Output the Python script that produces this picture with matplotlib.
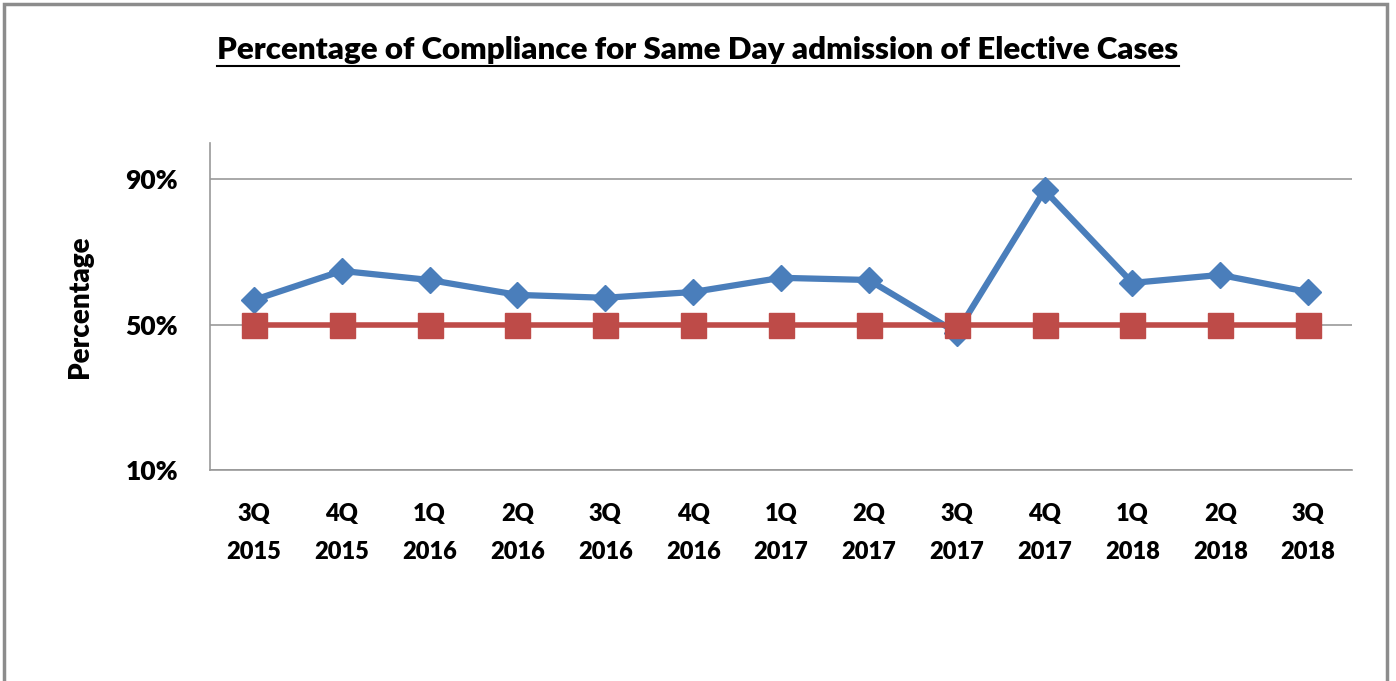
import matplotlib.pyplot as plt
from matplotlib.patches import Rectangle
from matplotlib.lines import Line2D

quarters = ['3Q\n2015', '4Q\n2015', '1Q\n2016', '2Q\n2016', '3Q\n2016', '4Q\n2016',
            '1Q\n2017', '2Q\n2017', '3Q\n2017', '4Q\n2017', '1Q\n2018', '2Q\n2018', '3Q\n2018']
compliance = [56.8, 64.8, 62.3, 58.2, 57.4, 59.0, 62.9, 62.3, 47.8, 87.0, 61.5, 63.7, 59.0]
target = [50] * 13
yticks = [10, 50, 90]

plt.rcParams['font.family'] = ['Lato', 'DejaVu Sans']
wt = 'heavy'

fig = plt.figure(figsize=(13.96, 6.81), dpi=100)
ax = fig.add_axes([0.1504, 0.3098, 0.8181, 0.4802])

x = range(len(quarters))
ax.plot(x, compliance, color='#4A7EBB', lw=4.5, marker='D', ms=13, zorder=3)
ax.plot(x, target, color='#BE4B48', lw=4, marker='s', ms=18, zorder=4)

ax.set_xlim(-0.5, len(quarters) - 0.5)
ax.set_ylim(10, 100)
ax.set_yticks(yticks)
ax.set_yticklabels([f'{v}%' for v in yticks], fontsize=19, fontweight=wt)
ax.set_xticks(list(x))
ax.set_xticklabels(quarters, fontsize=17, fontweight=wt, linespacing=1.85)
ax.tick_params(axis='y', length=0, pad=23)
ax.tick_params(axis='x', length=0, pad=24)
ax.yaxis.grid(True, color='#999999', lw=1.2)
ax.set_axisbelow(True)
for s in ['top', 'right']:
    ax.spines[s].set_visible(False)
for s in ['left', 'bottom']:
    ax.spines[s].set_color('#999999')
    ax.spines[s].set_linewidth(1.2)

ax.set_ylabel('Percentage', fontsize=20, fontweight=wt)
ax.yaxis.set_label_coords(-0.102, 0.5)

title = fig.text(0.5, 0.927, 'Percentage of Compliance for Same Day admission of Elective Cases',
                 ha='center', va='center', fontsize=22.5, fontweight=wt)

# outer frame
fig.patches.append(Rectangle((4 / 1396, -0.05), 1383 / 1396, 1.05 - 4 / 681,
                             transform=fig.transFigure, fill=False,
                             edgecolor='#8c8c8c', lw=2.5))

# underline the title
fig.canvas.draw()
bb = title.get_window_extent().transformed(fig.transFigure.inverted())
fig.lines.append(Line2D([bb.x0, bb.x1], [bb.y0 - 0.003, bb.y0 - 0.003],
                        transform=fig.transFigure, color='black', lw=1.5))

fig.savefig('out.png', dpi=100)
